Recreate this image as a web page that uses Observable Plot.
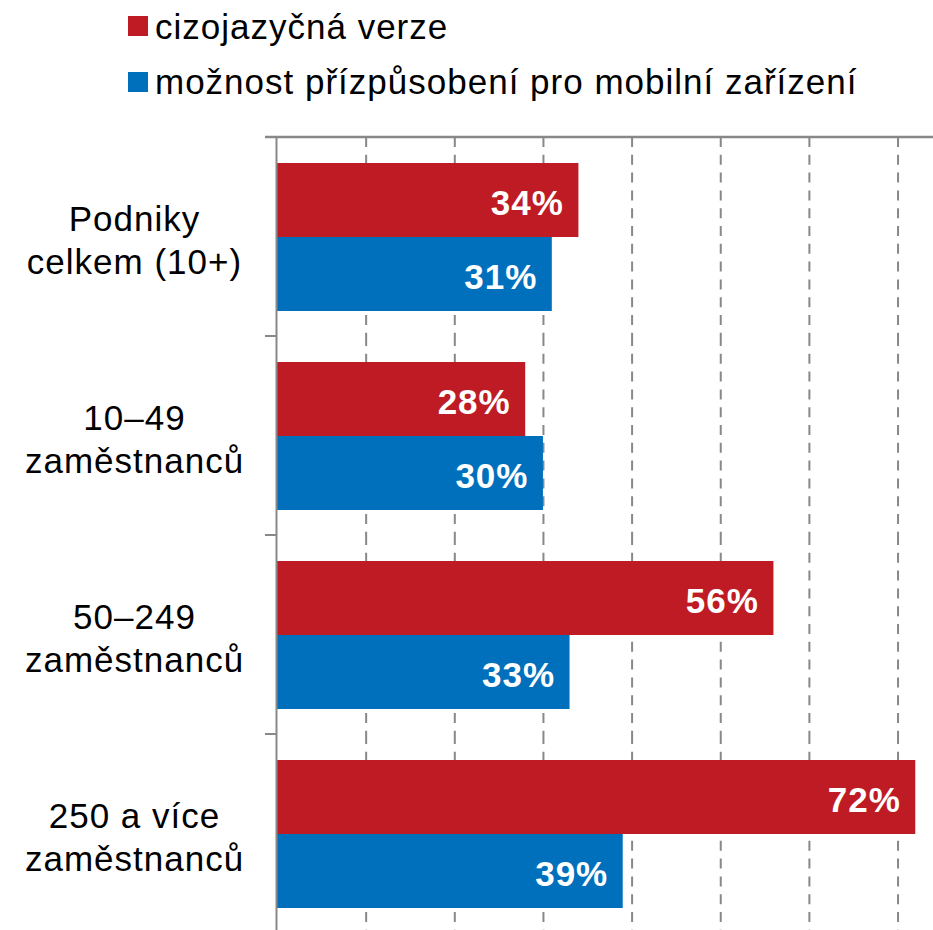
<!DOCTYPE html>
<html><head><meta charset="utf-8">
<script src="https://cdn.jsdelivr.net/npm/d3@7"></script>
<script src="https://cdn.jsdelivr.net/npm/@observablehq/plot@0.6"></script>
<style>
body{margin:0;background:#fff;font-family:"Liberation Sans",Arial,sans-serif;}
#legend{position:relative;height:126px;width:933px;}
.sw{position:absolute;left:128px;width:20px;height:20px;}
.lab{position:absolute;left:155px;font-size:35px;letter-spacing:1px;line-height:35px;color:#000;white-space:nowrap;}
#chart svg text{letter-spacing:1px;}
</style></head><body>
<div id="legend"></div><div id="chart"></div>
<script>
const categories = ["Podniky\ncelkem (10+)", "10–49\nzaměstnanců", "50–249\nzaměstnanců", "250 a více\nzaměstnanců"];
const series = ["cizojazyčná verze", "možnost přízpůsobení pro mobilní zařízení"];
const seriesColors = ["#BE1B24", "#0070BC"];
const foreignValues = [34, 28, 56, 72];
const mobileValues = [31, 30, 33, 39];
const gridTicks = [10, 20, 30, 40, 50, 60, 70];

const data = [];
categories.forEach((c, i) => {
  data.push({category: c, series: series[0], value: foreignValues[i]});
  data.push({category: c, series: series[1], value: mobileValues[i]});
});

// legend
const legend = document.getElementById("legend");
series.forEach((s, i) => {
  const sw = document.createElement("div");
  sw.className = "sw";
  sw.style.top = (16 + i * 56) + "px";
  sw.style.background = seriesColors[i];
  legend.appendChild(sw);
  const lab = document.createElement("div");
  lab.className = "lab";
  lab.style.top = (9 + i * 55) + "px";
  lab.textContent = s;
  legend.appendChild(lab);
});

const ML = 265;
const plot = Plot.plot({
  width: 933, height: 808,
  marginTop: 10, marginBottom: 0, marginLeft: ML, marginRight: 0,
  style: {fontFamily: "Liberation Sans, Arial, sans-serif", fontSize: "35px", background: "white", color: "black"},
  x: {domain: [0, 74], range: [277, 933], axis: null},
  y: {domain: series, paddingInner: 0, paddingOuter: 0.33, axis: null},
  fy: {domain: categories, padding: 0, axis: null},
  color: {domain: series, range: seriesColors},
  marks: [
    Plot.ruleX(gridTicks, {stroke: "#888", strokeWidth: 2, strokeDasharray: "10,7.8"}),
    Plot.barX(data, {x: "value", y: "series", fy: "category", fill: "series"}),
    Plot.ruleX([0], {stroke: "#888", strokeWidth: 2, dx: -1}),
    Plot.text(data, {x: "value", y: "series", fy: "category", text: d => d.value + "%", textAnchor: "end", dx: -15, dy: 3, fill: "white", fontWeight: "bold", fontSize: 35}),
    Plot.axisFy({anchor: "left", tickSize: 0, tickPadding: 0, textAnchor: "middle", dx: -131, dy: 1.5, fontSize: 35, lineHeight: 1.23, label: null, fill: "black"})
  ]
});
document.getElementById("chart").appendChild(plot);

// axis decorations from the library's scales
const fy = plot.scale("fy");
const xs = plot.scale("x");
const g = d3.select(plot).append("g").attr("stroke", "#888");
const top0 = fy.apply(categories[0]);
g.append("line").attr("x1", ML).attr("x2", xs.range[1]).attr("y1", top0).attr("y2", top0).attr("stroke-width", 2.5);
g.selectAll("line.tk").data(categories).join("line").attr("class", "tk")
  .attr("x1", ML).attr("x2", xs.range[0]).attr("y1", d => fy.apply(d)).attr("y2", d => fy.apply(d)).attr("stroke-width", 2);
</script>
</body></html>
